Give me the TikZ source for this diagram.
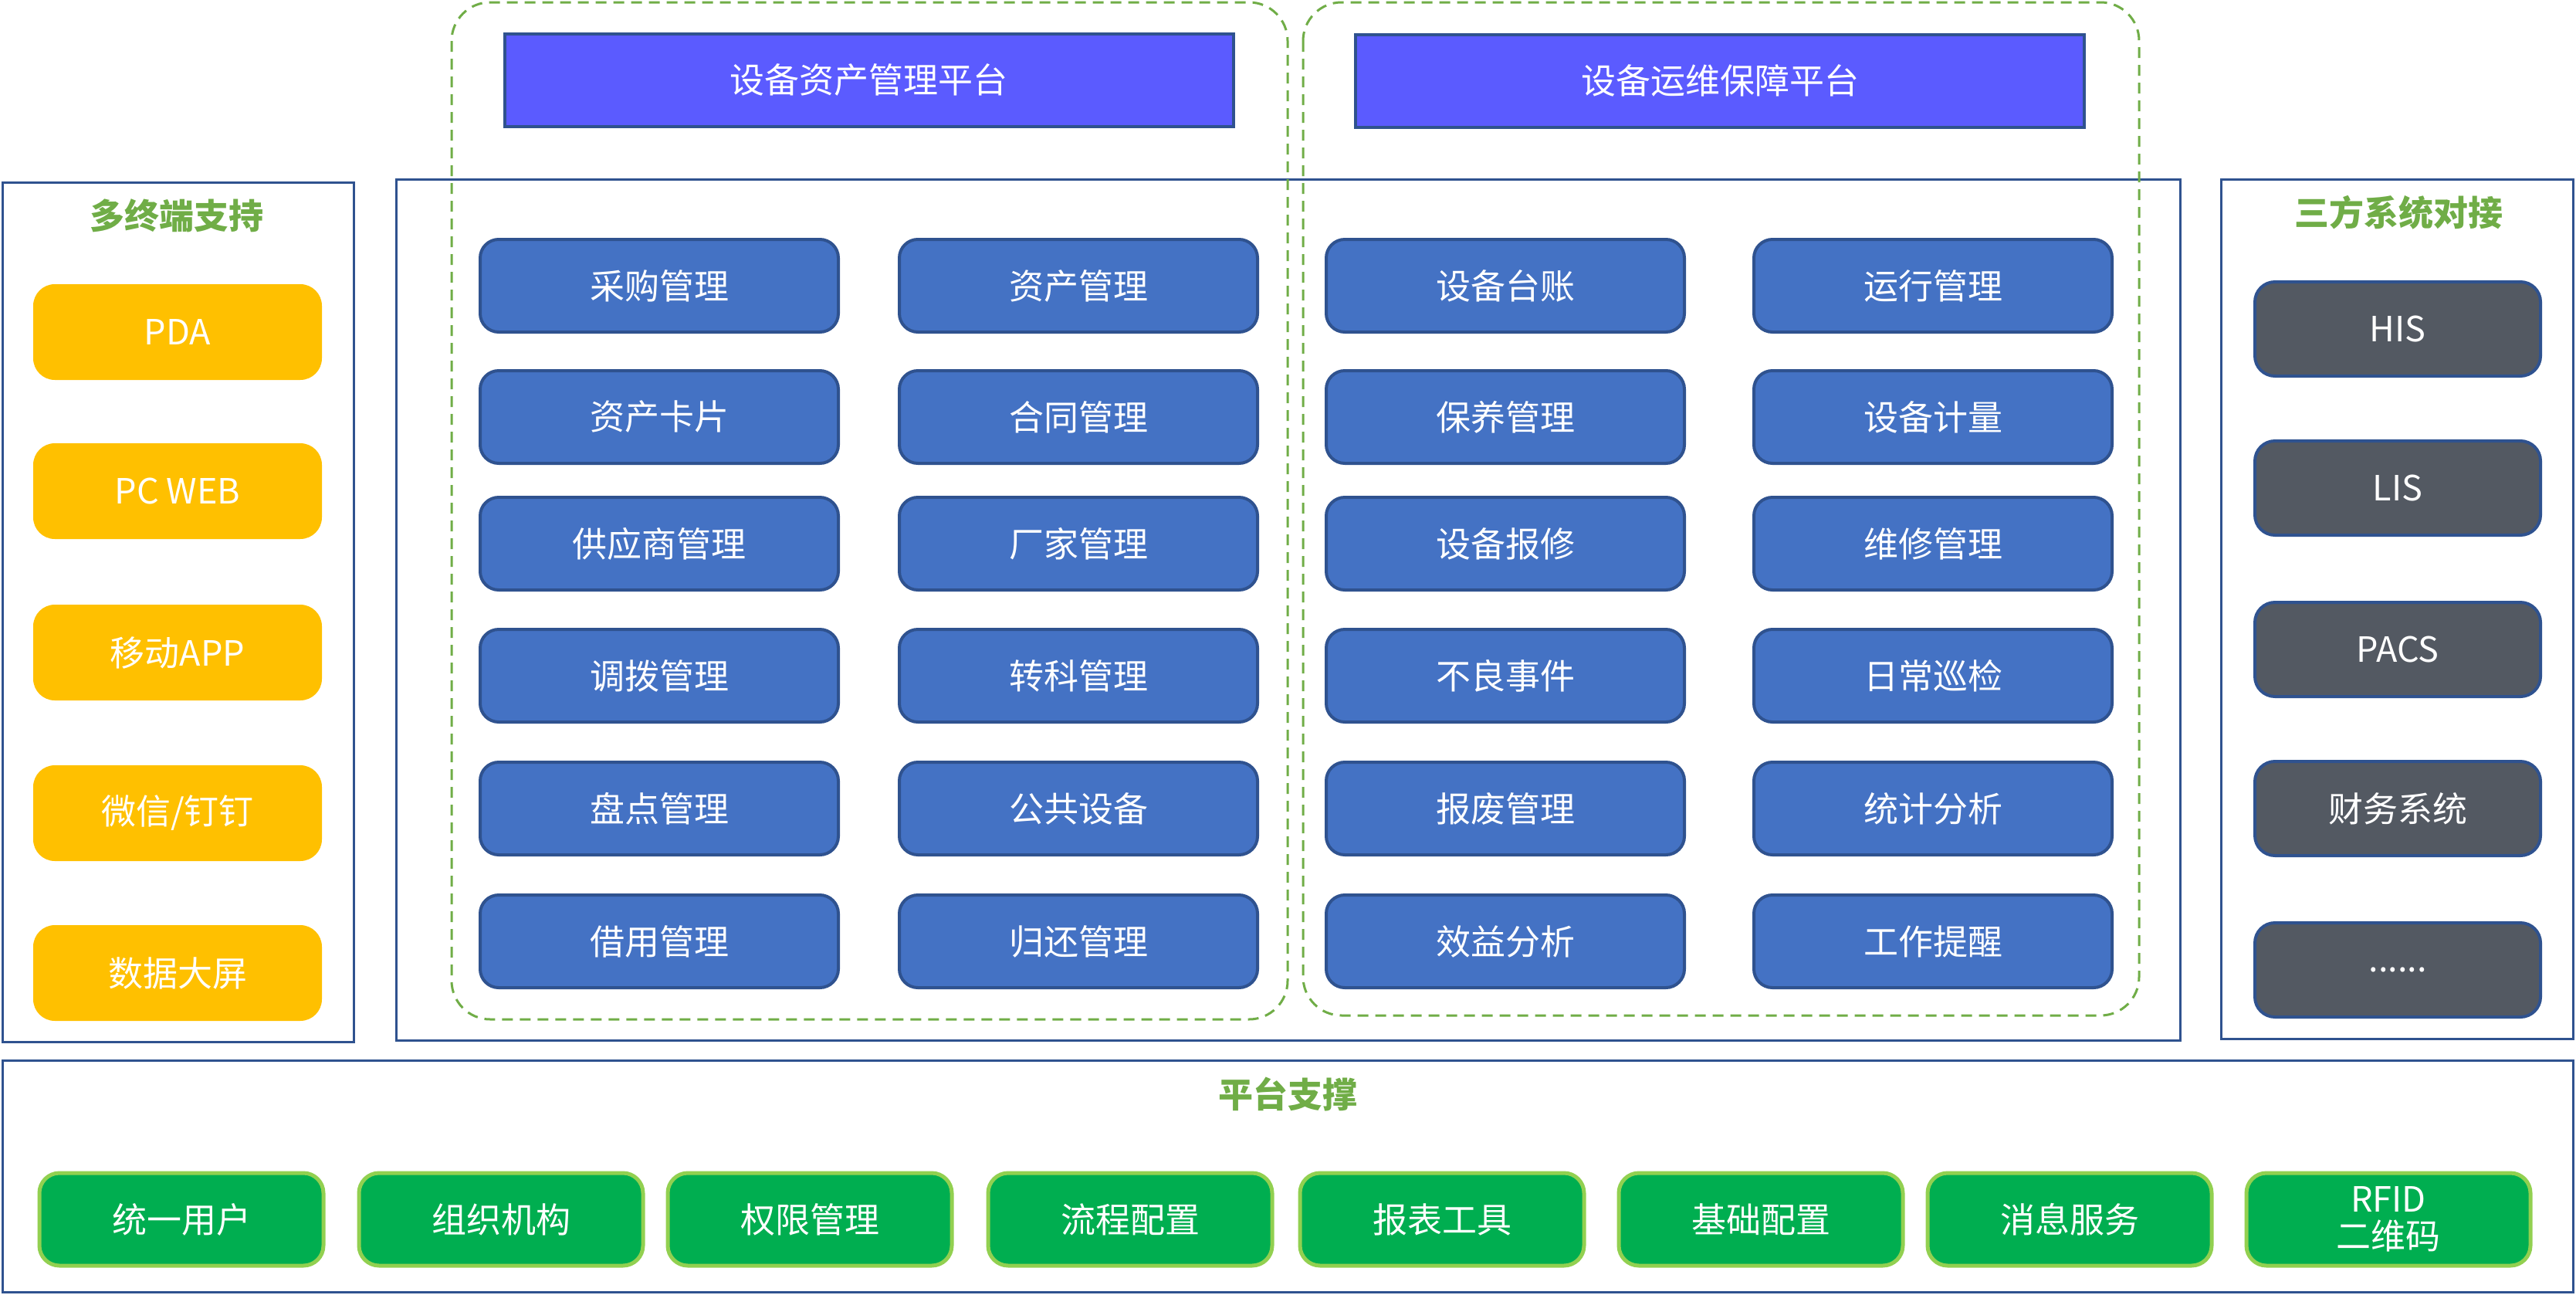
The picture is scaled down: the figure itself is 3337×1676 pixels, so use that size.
\documentclass[tikz,border=0pt]{standalone}
\usepackage{fontspec}
\setmainfont{Noto Sans CJK SC}
\definecolor{cborder}{HTML}{2F528F}
\definecolor{modblue}{HTML}{4472C4}
\definecolor{hdr}{HTML}{5B5BFF}
\definecolor{ylw}{HTML}{FFC000}
\definecolor{gry}{HTML}{535962}
\definecolor{grn}{HTML}{00AE50}
\definecolor{grnb}{HTML}{92D050}
\definecolor{ttl}{HTML}{70AD47}
\tikzset{
  container/.style={draw=cborder, line width=3pt},
  grp/.style={draw=ttl, line width=3pt, dash pattern=on 14pt off 9pt, rounded corners=50pt},
  lbl/.style={text=white, font=\fontsize{45}{54}\selectfont, inner sep=0pt},
  hdrbox/.style={lbl, draw=cborder, line width=4pt, fill=hdr, minimum width=944pt, minimum height=120pt},
  mod/.style={lbl, draw=cborder, line width=4pt, fill=modblue, rounded corners=24pt, minimum width=464pt, minimum height=120pt},
  ybox/.style={lbl, fill=ylw, rounded corners=28pt, minimum width=374pt, minimum height=124pt},
  gbox/.style={lbl, draw=cborder, line width=4pt, fill=gry, rounded corners=26pt, minimum width=370pt, minimum height=122pt},
  pbox/.style={lbl, draw=grnb, line width=5pt, fill=grn, rounded corners=26pt, minimum width=368pt, minimum height=120pt, align=center},
  title/.style={text=ttl, font=\fontsize{45}{54}\selectfont\bfseries, inner sep=0pt}
}
\begin{document}
\begin{tikzpicture}[x=1pt, y=-1pt]
\useasboundingbox (0,0) rectangle (3337,1676);
% containers
\draw[container] (513,232) rectangle (2824,1347);
\draw[container] (3,236) rectangle (458,1349);
\draw[container] (2877,232) rectangle (3333,1345);
\draw[container] (3,1373) rectangle (3333,1673);
% dashed groups
\draw[grp] (585,3) rectangle (1668,1320);
\draw[grp] (1688,3) rectangle (2771,1315);
% headers
\node[hdrbox] (h1) at (1125.5,103.5) {设备资产管理平台};
\node[hdrbox] (h2) at (2228,104.5) {设备运维保障平台};
% titles
\node[title] (t1) at (229,279) {多终端支持};
\node[title] (t2) at (3107,275) {三方系统对接};
\node[title] (t3) at (1668,1417) {平台支撑};
% modules
\foreach \txt [count=\i] in {采购管理,资产卡片,供应商管理,调拨管理,盘点管理,借用管理}{
  \pgfmathsetmacro\yy{{370,540,704,875,1047,1219}[\i-1]}
  \node[mod] (ma\i) at (854,\yy) {\txt};}
\foreach \txt [count=\i] in {资产管理,合同管理,厂家管理,转科管理,公共设备,归还管理}{
  \pgfmathsetmacro\yy{{370,540,704,875,1047,1219}[\i-1]}
  \node[mod] (mb\i) at (1397,\yy) {\txt};}
\foreach \txt [count=\i] in {设备台账,保养管理,设备报修,不良事件,报废管理,效益分析}{
  \pgfmathsetmacro\yy{{370,540,704,875,1047,1219}[\i-1]}
  \node[mod] (mc\i) at (1950,\yy) {\txt};}
\foreach \txt [count=\i] in {运行管理,设备计量,维修管理,日常巡检,统计分析,工作提醒}{
  \pgfmathsetmacro\yy{{370,540,704,875,1047,1219}[\i-1]}
  \node[mod] (md\i) at (2504,\yy) {\txt};}
% terminals
\node[ybox] (y1) at (230,430) {PDA};
\node[ybox] (y2) at (230,636) {PC WEB};
\node[ybox] (y3) at (230,845) {移动APP};
\node[ybox] (y4) at (230,1053) {微信/钉钉};
\node[ybox] (y5) at (230,1260) {数据大屏};
% third party
\node[gbox] (g1) at (3106,426) {HIS};
\node[gbox] (g2) at (3106,632) {LIS};
\node[gbox] (g3) at (3106,841) {PACS};
\node[gbox] (g4) at (3106,1047) {财务系统};
\node[gbox] (g5) at (3106,1256) {......};
% platform
\node[pbox] (p1) at (235,1579) {统一用户};
\node[pbox] (p2) at (649,1579) {组织机构};
\node[pbox] (p3) at (1049,1579) {权限管理};
\node[pbox] (p4) at (1464,1579) {流程配置};
\node[pbox] (p5) at (1868,1579) {报表工具};
\node[pbox] (p6) at (2281,1579) {基础配置};
\node[pbox] (p7) at (2681,1579) {消息服务};
\node[pbox] (p8) at (3094,1579) {RFID\\[-6pt]二维码};
\end{tikzpicture}
\end{document}
